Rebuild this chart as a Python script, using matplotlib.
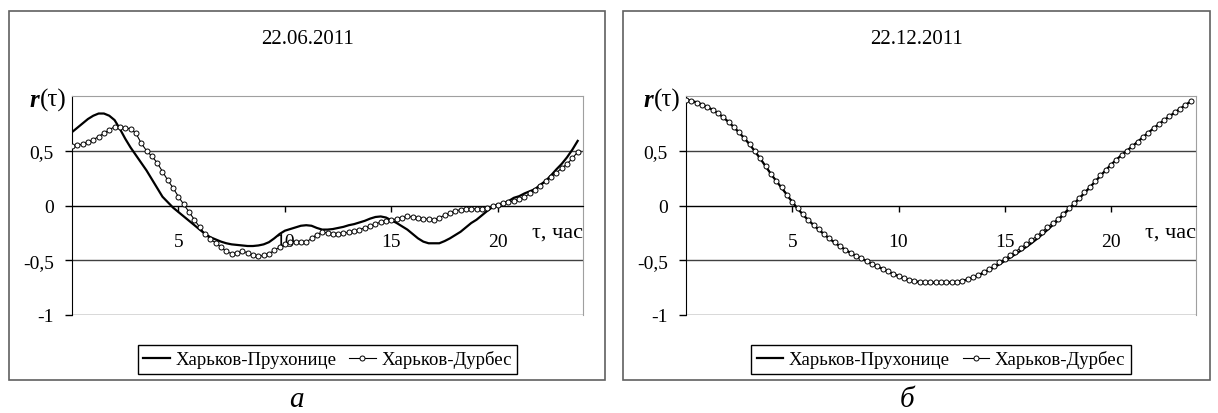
import numpy as np
import matplotlib
matplotlib.use("Agg")
import matplotlib.pyplot as plt
from matplotlib.patches import Rectangle
from matplotlib.lines import Line2D
import matplotlib.transforms as mtransforms

plt.rcParams['font.family'] = ['Liberation Serif', 'DejaVu Serif']

# 15-minute lag grid, 0 .. 23.75 hours (category positions)
tau = np.arange(96) * 0.25

# 22.06.2011
jun_pruhonice = [
    0.67, 0.71, 0.75, 0.79, 0.82, 0.84, 0.84, 0.82,
    0.78, 0.70, 0.61, 0.53, 0.46, 0.39, 0.32, 0.24,
    0.16, 0.08, 0.03, -0.02, -0.06, -0.10, -0.14, -0.18,
    -0.22, -0.26, -0.29, -0.31, -0.33, -0.345, -0.355, -0.36,
    -0.365, -0.37, -0.37, -0.365, -0.355, -0.335, -0.30, -0.26,
    -0.23, -0.215, -0.20, -0.185, -0.18, -0.185, -0.205, -0.22,
    -0.22, -0.215, -0.205, -0.195, -0.18, -0.17, -0.155, -0.14,
    -0.12, -0.105, -0.10, -0.11, -0.135, -0.16, -0.19, -0.22,
    -0.26, -0.30, -0.33, -0.345, -0.345, -0.345, -0.325, -0.30,
    -0.27, -0.24, -0.20, -0.16, -0.13, -0.09, -0.05, -0.015,
    0.01, 0.02, 0.04, 0.07, 0.085, 0.11, 0.13, 0.15,
    0.19, 0.225, 0.275, 0.33, 0.38, 0.44, 0.51, 0.59,
]
jun_durbes = [
    0.54, 0.55, 0.56, 0.58, 0.60, 0.63, 0.66, 0.69,
    0.72, 0.715, 0.71, 0.70, 0.66, 0.57, 0.50, 0.45,
    0.39, 0.31, 0.23, 0.16, 0.08, 0.01, -0.06, -0.13,
    -0.20, -0.26, -0.31, -0.34, -0.38, -0.42, -0.44, -0.435,
    -0.42, -0.43, -0.455, -0.465, -0.455, -0.44, -0.41, -0.38,
    -0.35, -0.33, -0.33, -0.335, -0.335, -0.30, -0.265, -0.245,
    -0.25, -0.26, -0.26, -0.25, -0.245, -0.235, -0.22, -0.205,
    -0.19, -0.17, -0.15, -0.14, -0.135, -0.12, -0.11, -0.10,
    -0.105, -0.11, -0.12, -0.125, -0.13, -0.11, -0.09, -0.07,
    -0.05, -0.038, -0.032, -0.032, -0.032, -0.032, -0.02, -0.005,
    0.008, 0.02, 0.03, 0.04, 0.055, 0.075, 0.11, 0.145,
    0.18, 0.22, 0.26, 0.30, 0.34, 0.38, 0.43, 0.49,
]

# 22.12.2011
dec_pruhonice = [
    0.968, 0.957, 0.942, 0.923, 0.900, 0.874, 0.843, 0.806,
    0.763, 0.716, 0.666, 0.613, 0.557, 0.492, 0.427, 0.357,
    0.287, 0.222, 0.162, 0.097, 0.032, -0.028, -0.083, -0.133,
    -0.178, -0.221, -0.263, -0.303, -0.340, -0.373, -0.405, -0.434,
    -0.460, -0.484, -0.508, -0.532, -0.556, -0.579, -0.602, -0.624,
    -0.645, -0.664, -0.680, -0.692, -0.699, -0.702, -0.704, -0.705,
    -0.705, -0.704, -0.702, -0.697, -0.689, -0.676, -0.659, -0.639,
    -0.616, -0.591, -0.565, -0.536, -0.506, -0.476, -0.445, -0.413,
    -0.380, -0.345, -0.307, -0.266, -0.224, -0.180, -0.136, -0.087,
    -0.038, 0.012, 0.062, 0.113, 0.164, 0.217, 0.270, 0.322,
    0.372, 0.418, 0.460, 0.500, 0.540, 0.581, 0.623, 0.664,
    0.704, 0.742, 0.779, 0.814, 0.849, 0.883, 0.917, 0.950,
]
dec_durbes = [
    0.965, 0.955, 0.940, 0.922, 0.900, 0.875, 0.845, 0.808,
    0.765, 0.718, 0.668, 0.615, 0.560, 0.495, 0.430, 0.360,
    0.290, 0.225, 0.165, 0.100, 0.035, -0.025, -0.080, -0.130,
    -0.175, -0.218, -0.260, -0.300, -0.337, -0.370, -0.402, -0.432,
    -0.458, -0.482, -0.506, -0.530, -0.554, -0.577, -0.600, -0.622,
    -0.643, -0.662, -0.678, -0.690, -0.697, -0.700, -0.702, -0.703,
    -0.703, -0.702, -0.700, -0.695, -0.686, -0.672, -0.654, -0.632,
    -0.607, -0.580, -0.552, -0.520, -0.487, -0.454, -0.421, -0.388,
    -0.354, -0.318, -0.280, -0.240, -0.200, -0.160, -0.122, -0.075,
    -0.027, 0.020, 0.070, 0.120, 0.170, 0.222, 0.274, 0.325,
    0.374, 0.420, 0.462, 0.502, 0.542, 0.582, 0.624, 0.665,
    0.705, 0.743, 0.780, 0.815, 0.850, 0.884, 0.918, 0.950,
]

names = ['Харьков-Прухонице', 'Харьков-Дурбес']
titles = ['22.06.2011', '22.12.2011']
captions = ['а', 'б']
x_ticks = [5, 10, 15, 20]
y_ticks = [-1, -0.5, 0, 0.5]
y_labels = ['-1', '-0,5', '0', '0,5']

W, H = 1218, 414
fig = plt.figure(figsize=(W / 100, H / 100), dpi=100)

# pixel layout of each panel: (box_x0, box_x1, plot_x0, plot_x1, caption_x)
panels = [(9, 605, 72, 583, 296), (623, 1210, 686, 1196, 907)]
data = [(jun_pruhonice, jun_durbes), (dec_pruhonice, dec_durbes)]

for i, (bx0, bx1, px0, px1, cx) in enumerate(panels):
    # outer chart frame
    fig.patches.append(Rectangle((bx0 / W, 1 - 381 / H), (bx1 - bx0) / W, 369 / H,
                                 transform=fig.transFigure, fill=False,
                                 edgecolor='#606060', lw=1.2))
    ax = fig.add_axes([px0 / W, 1 - 316 / H, (px1 - px0) / W, 219 / H])
    pru, dur = data[i]
    ax.plot(tau, pru, color='black', lw=1.6, zorder=3)
    ax.plot(tau, dur, color='black', lw=0.8, marker='o', markersize=3.6,
            markerfacecolor='white', markeredgecolor='black', markeredgewidth=0.7, zorder=4)

    ax.set_xlim(0, 24)
    ax.set_ylim(-1, 1)
    ax.set_axisbelow(True)
    ax.set_yticks(y_ticks)
    ax.set_yticklabels(y_labels)
    ax.yaxis.grid(True, color='#404040', lw=1.0)
    ax.set_xticks(x_ticks)
    ax.set_xticklabels([str(t) for t in x_ticks])

    ax.spines['left'].set_color('black')
    ax.spines['top'].set_color('#a0a0a0')
    ax.spines['right'].set_color('#a0a0a0')
    ax.spines['bottom'].set_position(('data', 0))
    ax.spines['bottom'].set_color('black')
    ax.tick_params(axis='y', direction='out', length=5, width=1, pad=8,
                   labelsize=14, colors='black')
    ax.tick_params(axis='x', direction='out', length=4.5, width=1, pad=15,
                   labelsize=14, colors='black')

    trans = mtransforms.blended_transform_factory(ax.transAxes, ax.transData)
    ax.text(1.0, -0.24, 'τ, час', transform=trans, ha='right', va='center', fontsize=16)

    paren = ax.annotate('(τ)', xy=(0, 0.982), xycoords='axes fraction',
                        xytext=(-4, 0), textcoords='offset points',
                        ha='right', va='center', fontsize=18, annotation_clip=False)
    ax.annotate('r', xy=(0, 0.5), xycoords=paren, ha='right', va='center',
                fontsize=18, fontstyle='italic', fontweight='bold', annotation_clip=False)

    handles = [Line2D([], [], color='black', lw=1.6),
               Line2D([], [], color='black', lw=0.8, marker='o', markersize=3.6,
                      markerfacecolor='white', markeredgecolor='black', markeredgewidth=0.7)]
    leg = ax.legend(handles, names, loc='center',
                    bbox_to_anchor=(((px0 + px1) / 2) / W, 1 - 360.5 / H),
                    bbox_transform=fig.transFigure, ncol=2, fontsize=13.5,
                    frameon=True, fancybox=False, framealpha=1, edgecolor='black',
                    handlelength=1.4, handletextpad=0.3, columnspacing=0.7,
                    borderpad=0.3, borderaxespad=0)
    leg.get_frame().set_linewidth(1.0)

    fig.text(((bx0 + bx1) / 2) / W, 1 - 40 / H, titles[i], ha='center', va='center', fontsize=15)
    fig.text(cx / W, 1 - 400 / H, captions[i], ha='center', va='center',
             fontsize=21, fontstyle='italic')

fig.savefig('out.png', dpi=100)
